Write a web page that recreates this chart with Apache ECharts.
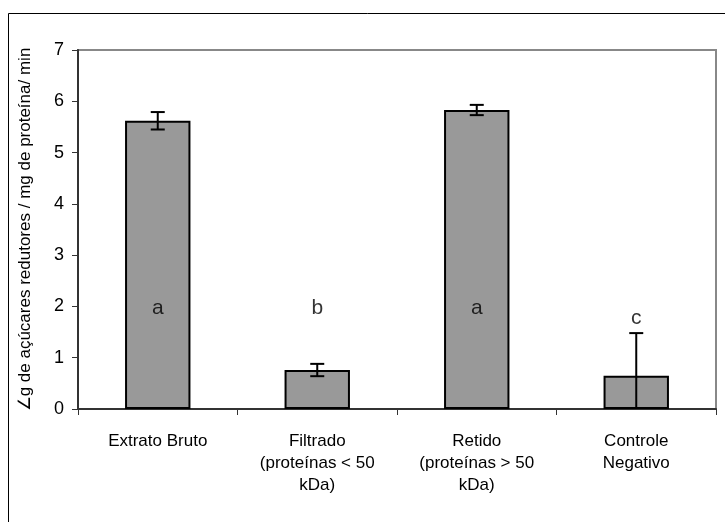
<!DOCTYPE html>
<html>
<head>
<meta charset="utf-8">
<script src="https://cdn.jsdelivr.net/npm/echarts@6/dist/echarts.min.js"></script>
<style>
  html, body { margin: 0; padding: 0; background: #fff; }
  #chart { width: 725px; height: 522px; }
</style>
</head>
<body>
<div id="chart"></div>
<script>
// Reducing-sugar activity per fraction, with standard deviation and significance letters
const categories = ['Extrato Bruto', 'Filtrado\n(proteínas < 50\nkDa)', 'Retido\n(proteínas > 50\nkDa)', 'Controle\nNegativo'];
const activity = [5.62, 0.76, 5.83, 0.65];
const deviation = [0.17, 0.12, 0.10, 0.83];
const letters = ['a', 'b', 'a', 'c'];
const letterLevel = [1.97, 1.97, 1.97, 1.77];
const yTicks = [0, 1, 2, 3, 4, 5, 6, 7];

const FONT = '"Liberation Sans", Arial, sans-serif';

const errorData = activity.map((v, i) => [i, Math.max(0, v - deviation[i]), v + deviation[i], v - deviation[i] > 0 ? 1 : 0]);
const letterData = letters.map((t, i) => [i, letterLevel[i], t]);

const chart = echarts.init(document.getElementById('chart'), null, { renderer: 'canvas' });

chart.setOption({
  animation: false,
  backgroundColor: '#fff',
  graphic: [{
    type: 'rect',
    shape: { x: 8.5, y: 13.5, width: 800, height: 600 },
    style: { fill: 'none', stroke: '#000', lineWidth: 1 },
    silent: true,
    z: -10
  }],
  grid: { left: 78, top: 50, right: 9, bottom: 113, show: true, borderColor: '#888', borderWidth: 2, backgroundColor: '#fff' },
  xAxis: {
    type: 'category',
    data: categories,
    axisLine: { lineStyle: { color: '#333', width: 2 } },
    axisTick: { show: true, length: 6, lineStyle: { color: '#333', width: 1 } },
    axisLabel: { color: '#000', fontFamily: FONT, fontSize: 17, lineHeight: 22, margin: 21, interval: 0 }
  },
  yAxis: {
    type: 'value',
    min: yTicks[0],
    max: yTicks[yTicks.length - 1],
    interval: 1,
    name: '∠g de açúcares redutores / mg de proteína/ min',
    nameLocation: 'middle',
    nameGap: 44,
    nameTextStyle: { color: '#000', fontFamily: FONT, fontSize: 17 },
    axisLine: { show: true, lineStyle: { color: '#333', width: 2 } },
    axisTick: { show: true, length: 6, lineStyle: { color: '#333', width: 1 } },
    axisLabel: { color: '#000', fontFamily: FONT, fontSize: 18, margin: 14 },
    splitLine: { show: false }
  },
  series: [
    {
      type: 'bar',
      data: activity,
      barWidth: '41%',
      itemStyle: { color: '#999999', borderColor: '#000', borderWidth: 2 },
      z: 2
    },
    {
      type: 'custom',
      data: errorData,
      z: 5,
      renderItem: function (params, api) {
        const x = api.value(0);
        const lo = api.coord([x, api.value(1)]);
        const hi = api.coord([x, api.value(2)]);
        const half = 7;
        const style = { stroke: '#000', lineWidth: 2 };
        const children = [
          { type: 'line', shape: { x1: hi[0], y1: hi[1], x2: lo[0], y2: lo[1] }, style: style },
          { type: 'line', shape: { x1: hi[0] - half, y1: hi[1], x2: hi[0] + half, y2: hi[1] }, style: style }
        ];
        if (api.value(3)) {
          children.push({ type: 'line', shape: { x1: lo[0] - half, y1: lo[1], x2: lo[0] + half, y2: lo[1] }, style: style });
        }
        return { type: 'group', children: children };
      }
    },
    {
      type: 'scatter',
      data: letterData,
      symbolSize: 0,
      z: 6,
      label: {
        show: true,
        position: 'inside',
        formatter: p => p.data[2],
        color: '#000',
        fontFamily: FONT,
        fontSize: 21
      }
    }
  ]
});
</script>
</body>
</html>
